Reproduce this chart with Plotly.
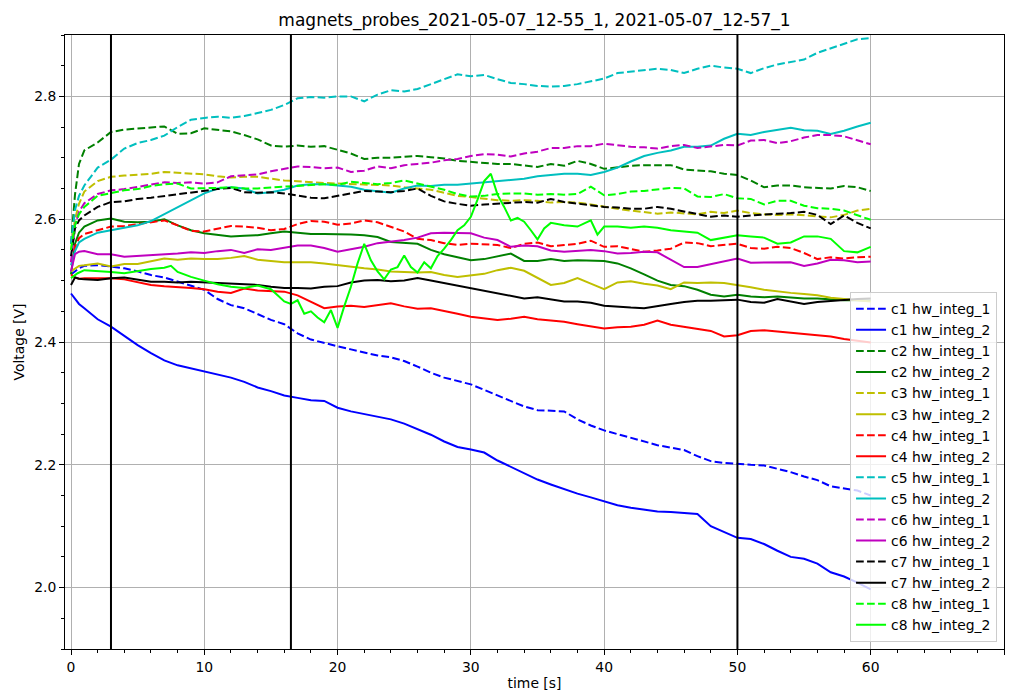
import plotly.graph_objects as go

TITLE = "magnets_probes_2021-05-07_12-55_1, 2021-05-07_12-57_1"
X_LABEL = "time [s]"
Y_LABEL = "Voltage [V]"

# common sample times [s]
T = [0, 0.3, 0.6, 1, 2, 3, 4, 5, 6, 7,
     8, 9, 10, 11, 12, 13, 14, 15, 16, 17,
     18, 19, 20, 21, 22, 23, 24, 25, 26, 27,
     28, 29, 30, 31, 32, 33, 34, 35, 36, 37,
     38, 39, 40, 41, 42, 43, 44, 45, 46, 47,
     48, 49, 50, 51, 52, 53, 54, 55, 56, 57,
     58, 59, 60]

C1_1 = [2.510, 2.515, 2.520, 2.524, 2.525, 2.523, 2.520, 2.515, 2.509, 2.505,
        2.498, 2.492, 2.485, 2.470, 2.460, 2.455, 2.446, 2.436, 2.429, 2.414,
        2.404, 2.398, 2.393, 2.388, 2.383, 2.378, 2.375, 2.369, 2.360, 2.350,
        2.342, 2.337, 2.331, 2.322, 2.313, 2.304, 2.295, 2.289, 2.288, 2.287,
        2.274, 2.264, 2.256, 2.250, 2.243, 2.237, 2.232, 2.228, 2.224, 2.214,
        2.206, 2.203, 2.201, 2.200, 2.199, 2.194, 2.188, 2.181, 2.175, 2.165,
        2.162, 2.158, 2.150]
C1_2 = [2.479, 2.470, 2.462, 2.455, 2.437, 2.425, 2.410, 2.395, 2.382, 2.370,
        2.362, 2.357, 2.353, 2.348, 2.342, 2.335, 2.326, 2.320, 2.313, 2.309,
        2.305, 2.304, 2.293, 2.287, 2.283, 2.278, 2.274, 2.267, 2.258, 2.249,
        2.238, 2.229, 2.225, 2.220, 2.207, 2.197, 2.187, 2.176, 2.168, 2.160,
        2.153, 2.147, 2.140, 2.134, 2.130, 2.127, 2.124, 2.123, 2.122, 2.120,
        2.100, 2.090, 2.081, 2.079, 2.071, 2.060, 2.050, 2.047, 2.039, 2.025,
        2.018, 2.008, 1.997]
C2_1 = [2.560, 2.640, 2.690, 2.712, 2.725, 2.742, 2.746, 2.748, 2.750, 2.751,
        2.739, 2.740, 2.748, 2.746, 2.743, 2.737, 2.730, 2.720, 2.718, 2.720,
        2.718, 2.719, 2.713, 2.707, 2.698, 2.700, 2.700, 2.702, 2.703, 2.701,
        2.699, 2.695, 2.693, 2.692, 2.690, 2.690, 2.688, 2.685, 2.690, 2.687,
        2.695, 2.690, 2.682, 2.685, 2.687, 2.688, 2.688, 2.688, 2.681, 2.680,
        2.678, 2.674, 2.672, 2.663, 2.652, 2.655, 2.655, 2.652, 2.651, 2.650,
        2.654, 2.652, 2.646]
C2_2 = [2.510, 2.560, 2.578, 2.588, 2.598, 2.601, 2.596, 2.595, 2.596, 2.600,
        2.590, 2.582, 2.577, 2.575, 2.572, 2.573, 2.574, 2.577, 2.580, 2.578,
        2.576, 2.576, 2.576, 2.575, 2.574, 2.571, 2.563, 2.561, 2.560, 2.550,
        2.543, 2.538, 2.533, 2.535, 2.540, 2.544, 2.532, 2.532, 2.535, 2.532,
        2.533, 2.532, 2.532, 2.528, 2.520, 2.510, 2.500, 2.493, 2.491, 2.485,
        2.477, 2.474, 2.477, 2.474, 2.473, 2.474, 2.472, 2.471, 2.471, 2.469,
        2.468, 2.468, 2.467]
C3_1 = [2.550, 2.600, 2.625, 2.645, 2.662, 2.669, 2.671, 2.672, 2.674, 2.677,
        2.676, 2.674, 2.673, 2.670, 2.668, 2.669, 2.669, 2.666, 2.663, 2.662,
        2.660, 2.659, 2.658, 2.657, 2.656, 2.656, 2.655, 2.652, 2.650, 2.648,
        2.643, 2.638, 2.636, 2.633, 2.631, 2.630, 2.631, 2.630, 2.627, 2.628,
        2.627, 2.624, 2.620, 2.617, 2.614, 2.612, 2.609, 2.611, 2.610, 2.608,
        2.612, 2.610, 2.614, 2.610, 2.608, 2.607, 2.608, 2.606, 2.605, 2.603,
        2.607, 2.614, 2.617]
C3_2 = [2.515, 2.520, 2.524, 2.525, 2.528, 2.523, 2.527, 2.527, 2.532, 2.536,
        2.534, 2.536, 2.535, 2.535, 2.537, 2.540, 2.534, 2.532, 2.530, 2.530,
        2.530, 2.528, 2.525, 2.522, 2.520, 2.518, 2.515, 2.514, 2.513, 2.514,
        2.509, 2.506, 2.509, 2.511, 2.517, 2.521, 2.516, 2.505, 2.493, 2.496,
        2.504, 2.495, 2.486, 2.497, 2.499, 2.495, 2.492, 2.486, 2.497, 2.496,
        2.497, 2.496, 2.493, 2.489, 2.485, 2.482, 2.480, 2.478, 2.476, 2.472,
        2.470, 2.468, 2.466]
C4_1 = [2.530, 2.555, 2.569, 2.576, 2.582, 2.588, 2.589, 2.592, 2.596, 2.598,
        2.590, 2.581, 2.580, 2.584, 2.589, 2.588, 2.586, 2.582, 2.584, 2.592,
        2.597, 2.596, 2.591, 2.593, 2.598, 2.595, 2.588, 2.580, 2.568, 2.566,
        2.561, 2.558, 2.560, 2.559, 2.558, 2.553, 2.560, 2.562, 2.556, 2.558,
        2.560, 2.565, 2.555, 2.556, 2.552, 2.547, 2.549, 2.552, 2.562, 2.561,
        2.556, 2.558, 2.560, 2.553, 2.552, 2.555, 2.553, 2.545, 2.535, 2.538,
        2.536, 2.538, 2.539]
C4_2 = [2.510, 2.505, 2.503, 2.504, 2.504, 2.504, 2.502, 2.497, 2.493, 2.491,
        2.490, 2.488, 2.486, 2.482, 2.480, 2.487, 2.484, 2.483, 2.482, 2.476,
        2.466, 2.455, 2.458, 2.459, 2.457, 2.460, 2.463, 2.458, 2.454, 2.455,
        2.451, 2.446, 2.441, 2.438, 2.436, 2.438, 2.441, 2.437, 2.435, 2.433,
        2.429, 2.426, 2.422, 2.424, 2.425, 2.428, 2.435, 2.428, 2.425, 2.422,
        2.418, 2.409, 2.411, 2.418, 2.419, 2.417, 2.415, 2.414, 2.412, 2.409,
        2.405, 2.402, 2.399]
C5_1 = [2.560, 2.615, 2.638, 2.655, 2.684, 2.697, 2.715, 2.724, 2.729, 2.736,
        2.750, 2.762, 2.765, 2.767, 2.765, 2.768, 2.773, 2.778, 2.786, 2.797,
        2.799, 2.798, 2.800, 2.800, 2.792, 2.803, 2.810, 2.808, 2.812, 2.820,
        2.828, 2.836, 2.833, 2.835, 2.828, 2.822, 2.820, 2.817, 2.816, 2.817,
        2.820, 2.825, 2.829, 2.838, 2.840, 2.842, 2.845, 2.843, 2.838, 2.845,
        2.850, 2.847, 2.845, 2.838, 2.846, 2.852, 2.856, 2.860, 2.871, 2.878,
        2.886, 2.893, 2.895]
C5_2 = [2.525, 2.548, 2.562, 2.568, 2.578, 2.582, 2.586, 2.590, 2.597, 2.608,
        2.619, 2.630, 2.642, 2.650, 2.652, 2.650, 2.642, 2.644, 2.648, 2.655,
        2.657, 2.657, 2.655, 2.653, 2.648, 2.645, 2.643, 2.650, 2.655, 2.654,
        2.656, 2.656, 2.658, 2.660, 2.661, 2.663, 2.666, 2.670, 2.672, 2.674,
        2.674, 2.672, 2.677, 2.684, 2.694, 2.703, 2.708, 2.712, 2.718, 2.718,
        2.720, 2.731, 2.739, 2.737, 2.742, 2.746, 2.749, 2.745, 2.744, 2.739,
        2.744, 2.751, 2.757]
C6_1 = [2.530, 2.590, 2.612, 2.626, 2.641, 2.647, 2.649, 2.653, 2.656, 2.660,
        2.659, 2.660, 2.658, 2.660, 2.670, 2.672, 2.673, 2.678, 2.682, 2.686,
        2.685, 2.683, 2.684, 2.677, 2.679, 2.686, 2.683, 2.688, 2.690, 2.692,
        2.696, 2.698, 2.703, 2.706, 2.705, 2.702, 2.707, 2.710, 2.716, 2.716,
        2.719, 2.719, 2.723, 2.720, 2.718, 2.717, 2.715, 2.719, 2.721, 2.716,
        2.718, 2.721, 2.720, 2.728, 2.729, 2.724, 2.727, 2.733, 2.737, 2.737,
        2.735, 2.728, 2.722]
C6_2 = [2.515, 2.543, 2.547, 2.548, 2.543, 2.543, 2.539, 2.540, 2.542, 2.542,
        2.544, 2.546, 2.545, 2.548, 2.550, 2.545, 2.551, 2.550, 2.553, 2.557,
        2.557, 2.553, 2.547, 2.551, 2.555, 2.561, 2.563, 2.566, 2.570, 2.577,
        2.578, 2.577, 2.577, 2.570, 2.566, 2.555, 2.557, 2.556, 2.549, 2.547,
        2.549, 2.550, 2.548, 2.544, 2.545, 2.547, 2.546, 2.534, 2.522, 2.522,
        2.527, 2.532, 2.536, 2.529, 2.529, 2.530, 2.530, 2.524, 2.528, 2.534,
        2.533, 2.530, 2.531]
C7_1 = [2.540, 2.585, 2.598, 2.606, 2.620, 2.628, 2.629, 2.633, 2.635, 2.638,
        2.641, 2.644, 2.647, 2.649, 2.651, 2.644, 2.643, 2.644, 2.642, 2.639,
        2.635, 2.634, 2.638, 2.642, 2.646, 2.645, 2.644, 2.646, 2.650, 2.638,
        2.629, 2.625, 2.622, 2.624, 2.625, 2.627, 2.628, 2.627, 2.633, 2.628,
        2.625, 2.622, 2.620, 2.619, 2.617, 2.617, 2.620, 2.617, 2.613, 2.608,
        2.604, 2.606, 2.604, 2.606, 2.608, 2.609, 2.610, 2.612, 2.607, 2.592,
        2.606, 2.594, 2.585]
C7_2 = [2.493, 2.505, 2.503, 2.502, 2.501, 2.504, 2.505, 2.502, 2.498, 2.498,
        2.497, 2.498, 2.497, 2.496, 2.494, 2.493, 2.493, 2.490, 2.488, 2.488,
        2.487, 2.490, 2.491, 2.497, 2.500, 2.501, 2.499, 2.500, 2.504, 2.500,
        2.496, 2.492, 2.488, 2.484, 2.480, 2.475, 2.471, 2.473, 2.469, 2.466,
        2.466, 2.464, 2.459, 2.457, 2.456, 2.455, 2.459, 2.462, 2.465, 2.467,
        2.467, 2.468, 2.469, 2.465, 2.464, 2.470, 2.466, 2.462, 2.465, 2.467,
        2.468, 2.470, 2.471]
C8_1 = [2.550, 2.590, 2.608, 2.620, 2.638, 2.642, 2.647, 2.649, 2.654, 2.657,
        2.658, 2.650, 2.650, 2.651, 2.652, 2.650, 2.650, 2.652, 2.653, 2.654,
        2.656, 2.657, 2.656, 2.661, 2.659, 2.657, 2.659, 2.663, 2.658, 2.653,
        2.648, 2.641, 2.637, 2.638, 2.641, 2.642, 2.642, 2.640, 2.641, 2.640,
        2.641, 2.653, 2.639, 2.641, 2.645, 2.646, 2.648, 2.651, 2.650, 2.637,
        2.636, 2.641, 2.634, 2.633, 2.624, 2.630, 2.630, 2.622, 2.618, 2.617,
        2.614, 2.607, 2.599]

# c8 hw_integ_2 is sampled more finely (it is much noisier)
T8 = [0, 0.5, 1, 2, 3, 4, 5, 6, 7, 7.5,
      8, 9, 10, 11, 12, 13, 14, 15, 15.5, 16,
      16.5, 17, 17.5, 18, 18.5, 19, 19.5, 20, 20.5, 21,
      21.5, 22, 22.5, 23, 23.5, 24, 24.5, 25, 25.5, 26,
      26.5, 27, 27.5, 28, 28.5, 29, 29.5, 30, 30.5, 31,
      31.5, 32, 32.5, 33, 33.5, 34, 34.5, 35, 35.5, 36,
      37, 38, 39, 39.5, 40, 41, 42, 43, 44, 45,
      46, 47, 48, 49, 50, 51, 52, 53, 54, 55,
      56, 57, 58, 59, 60]
C8_2 = [2.504, 2.512, 2.517, 2.516, 2.514, 2.512, 2.516, 2.519, 2.521, 2.524,
        2.514, 2.506, 2.500, 2.494, 2.490, 2.488, 2.492, 2.486, 2.476, 2.466,
        2.462, 2.468, 2.446, 2.450, 2.440, 2.432, 2.452, 2.423, 2.458, 2.490,
        2.528, 2.560, 2.533, 2.515, 2.502, 2.518, 2.522, 2.541, 2.522, 2.513,
        2.530, 2.520, 2.540, 2.552, 2.566, 2.582, 2.590, 2.604, 2.632, 2.662,
        2.674, 2.640, 2.620, 2.598, 2.602, 2.596, 2.582, 2.567, 2.585, 2.594,
        2.590, 2.588, 2.598, 2.575, 2.588, 2.588, 2.586, 2.588, 2.586, 2.582,
        2.580, 2.578, 2.566, 2.570, 2.574, 2.572, 2.570, 2.560, 2.562, 2.572,
        2.572, 2.568, 2.548, 2.546, 2.555]

# vertical marker lines [s]
VLINES = [3, 16.5, 50]

X_RANGE = [-0.45, 70]
Y_RANGE = [1.9, 2.9]

# (name, x, y, color, dashed)
SERIES = [
    ("c1 hw_integ_1", T, C1_1, "#0000ff", True),
    ("c1 hw_integ_2", T, C1_2, "#0000ff", False),
    ("c2 hw_integ_1", T, C2_1, "#008000", True),
    ("c2 hw_integ_2", T, C2_2, "#008000", False),
    ("c3 hw_integ_1", T, C3_1, "#bfbf00", True),
    ("c3 hw_integ_2", T, C3_2, "#bfbf00", False),
    ("c4 hw_integ_1", T, C4_1, "#ff0000", True),
    ("c4 hw_integ_2", T, C4_2, "#ff0000", False),
    ("c5 hw_integ_1", T, C5_1, "#00bfbf", True),
    ("c5 hw_integ_2", T, C5_2, "#00bfbf", False),
    ("c6 hw_integ_1", T, C6_1, "#bf00bf", True),
    ("c6 hw_integ_2", T, C6_2, "#bf00bf", False),
    ("c7 hw_integ_1", T, C7_1, "#000000", True),
    ("c7 hw_integ_2", T, C7_2, "#000000", False),
    ("c8 hw_integ_1", T, C8_1, "#00ff00", True),
    ("c8 hw_integ_2", T8, C8_2, "#00ff00", False),
]

fig = go.Figure()
for name, xs, ys, color, dashed in SERIES:
    fig.add_trace(go.Scatter(
        x=xs, y=ys, mode="lines", name=name,
        line=dict(color=color, width=2, dash="7.7px,3.3px" if dashed else "solid"),
    ))

for xv in VLINES:
    fig.add_shape(type="line", xref="x", yref="paper", x0=xv, x1=xv, y0=0, y1=1,
                  line=dict(color="black", width=2), layer="above")

FONT = "DejaVu Sans, Liberation Sans, sans-serif"
axis_common = dict(
    showgrid=True, gridcolor="#b0b0b0", gridwidth=0.8,
    showline=True, linecolor="black", linewidth=0.8, mirror=True,
    ticks="outside", ticklen=5, tickwidth=0.8, tickcolor="black",
    zeroline=False, tickfont=dict(size=13.9, color="black"),
)

fig.update_layout(
    width=1012, height=695,
    margin=dict(l=65, r=7, t=35, b=43),
    paper_bgcolor="white", plot_bgcolor="white",
    font=dict(family=FONT, size=13.9, color="black"),
    title=dict(text=TITLE, x=0.5, xref="paper", xanchor="center",
               y=1 - 20 / 695, yref="container", yanchor="middle",
               font=dict(size=17, color="black")),
    xaxis=dict(range=X_RANGE, tick0=0, dtick=10,
               minor=dict(tick0=0, dtick=2, ticks="outside", ticklen=3,
                          tickwidth=0.6, tickcolor="black", showgrid=False),
               title=dict(text=X_LABEL, standoff=4, font=dict(size=13.9)),
               **axis_common),
    yaxis=dict(range=Y_RANGE, tick0=2.0, dtick=0.2, tickformat=".1f",
               minor=dict(tick0=1.9, dtick=0.05, ticks="outside", ticklen=3,
                          tickwidth=0.6, tickcolor="black", showgrid=False),
               title=dict(text=Y_LABEL, standoff=6, font=dict(size=13.9)),
               **axis_common),
    legend=dict(x=0.9926, xanchor="right", y=0.011, yanchor="bottom",
                bgcolor="rgba(255,255,255,0.8)", bordercolor="#cccccc", borderwidth=1,
                font=dict(size=13.9, color="black"), tracegroupgap=0),
    showlegend=True,
)

fig.write_html("out.html")
